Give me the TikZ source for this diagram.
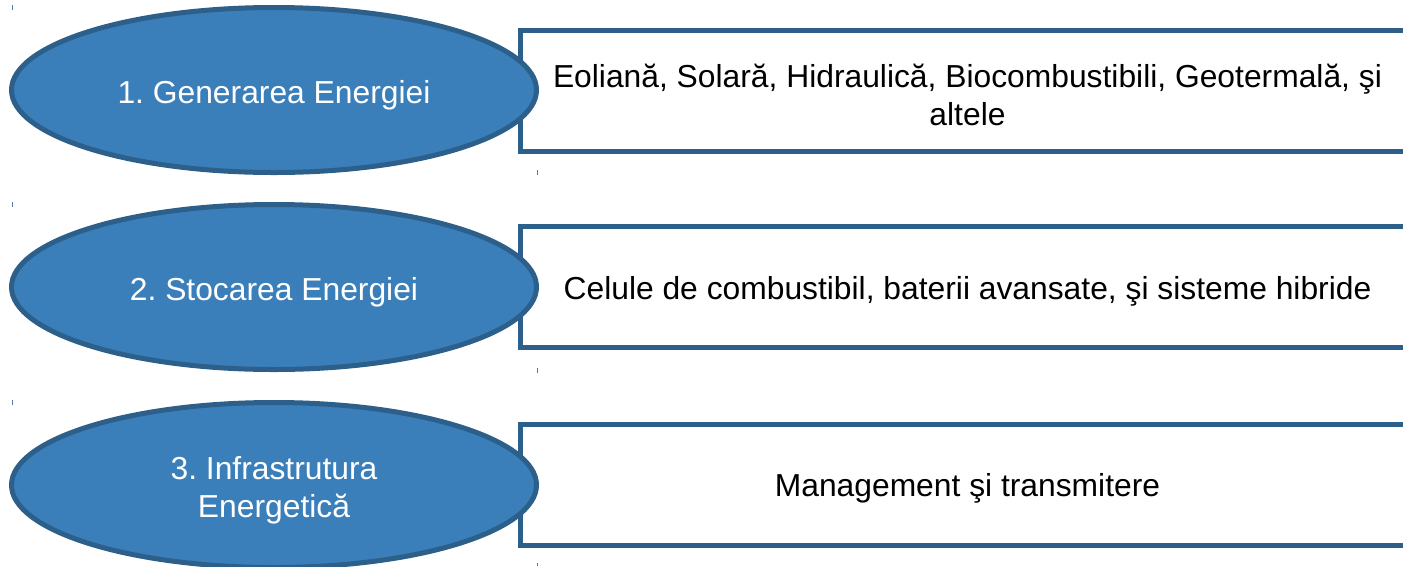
\documentclass[tikz,border=0pt]{standalone}
\usepackage{fontspec}
\setmainfont{Liberation Sans}
\usetikzlibrary{shapes.geometric}
\definecolor{efill}{RGB}{59,127,186}
\definecolor{edgeblue}{RGB}{44,95,138}
\definecolor{tickblue}{RGB}{80,120,170}
\frenchspacing
\begin{document}
\begin{tikzpicture}[x=1pt,y=-1pt,
  oval/.style={ellipse, draw=edgeblue, fill=efill, line width=5pt,
    minimum width=525pt, minimum height=165pt, inner sep=0pt},
  infobox/.style={rectangle, draw=edgeblue, fill=white, line width=5pt,
    minimum width=894pt, minimum height=121pt, inner sep=0pt},
  ovaltext/.style={inner sep=0pt, yshift=-5pt, text=white, align=center,
    font=\fontsize{31.8}{38}\selectfont\frenchspacing},
  boxtext/.style={inner sep=0pt, yshift=-4pt, text=black, align=center,
    font=\fontsize{31.8}{38}\selectfont\frenchspacing},
  tickmark/.style={draw=tickblue, line width=1pt}]
\useasboundingbox (0,0) rectangle (1403,566);

% boxes
\node[infobox, label={[boxtext]center:{Eoliană, Solară, Hidraulică, Biocombustibili, Geotermală, şi\\altele}}] (b1) at (967.5,90.5) {};
\node[infobox, label={[boxtext]center:{Celule de combustibil, baterii avansate, şi sisteme hibride}}] (b2) at (967.5,287) {};
\node[infobox, label={[boxtext]center:{Management şi transmitere}}] (b3) at (967.5,484.5) {};

% ellipses
\node[oval, label={[ovaltext]center:{1. Generarea Energiei}}] (e1) at (274,90) {};
\node[oval, label={[ovaltext]center:{2. Stocarea Energiei}}] (e2) at (274,287) {};
\node[oval, label={[ovaltext]center:{3. Infrastrutura\\Energetică}}] (e3) at (274,485) {};

% small tick marks
\draw[tickmark] (12,5) -- (12,10);
\draw[tickmark] (12,202) -- (12,207);
\draw[tickmark] (12,400) -- (12,405);
\draw[tickmark] (537,170) -- (537,175);
\draw[tickmark] (537,368) -- (537,373);
\draw[tickmark] (537,563) -- (537,566);
\end{tikzpicture}
\end{document}
